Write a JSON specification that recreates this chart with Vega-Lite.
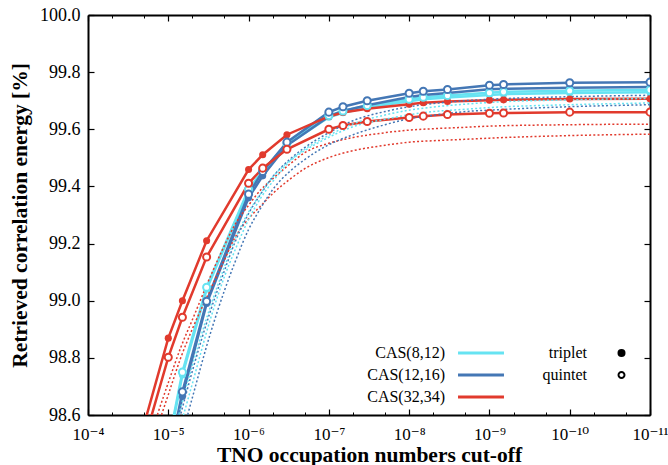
{
  "$schema": "https://vega.github.io/schema/vega-lite/v6.json",
  "width": 562,
  "height": 400,
  "autosize": {"type": "none"},
  "padding": {"left": 88, "top": 15, "right": 18, "bottom": 50},
  "background": "white",
  "config": {
    "view": {"stroke": null},
    "font": "Liberation Serif",
    "axis": {
      "grid": false,
      "labelFont": "Liberation Serif, DejaVu Serif",
      "titleFont": "Liberation Serif",
      "labelColor": "black",
      "titleColor": "black",
      "tickColor": "black",
      "domainColor": "black"
    }
  },
  "datasets": {
    "solid": [
      {"cas": "CAS(8,12)", "spin": "triplet", "cut": 1e-5, "e": 98.49},
      {"cas": "CAS(8,12)", "spin": "triplet", "cut": 6.67e-6, "e": 98.74},
      {"cas": "CAS(8,12)", "spin": "triplet", "cut": 3.33e-6, "e": 99.04},
      {"cas": "CAS(8,12)", "spin": "triplet", "cut": 1e-6, "e": 99.385},
      {"cas": "CAS(8,12)", "spin": "triplet", "cut": 6.67e-7, "e": 99.45},
      {"cas": "CAS(8,12)", "spin": "triplet", "cut": 3.33e-7, "e": 99.545},
      {"cas": "CAS(8,12)", "spin": "triplet", "cut": 1e-7, "e": 99.642},
      {"cas": "CAS(8,12)", "spin": "triplet", "cut": 6.67e-8, "e": 99.658},
      {"cas": "CAS(8,12)", "spin": "triplet", "cut": 3.33e-8, "e": 99.676},
      {"cas": "CAS(8,12)", "spin": "triplet", "cut": 1e-8, "e": 99.698},
      {"cas": "CAS(8,12)", "spin": "triplet", "cut": 6.67e-9, "e": 99.705},
      {"cas": "CAS(8,12)", "spin": "triplet", "cut": 3.33e-9, "e": 99.711},
      {"cas": "CAS(8,12)", "spin": "triplet", "cut": 1e-9, "e": 99.72},
      {"cas": "CAS(8,12)", "spin": "triplet", "cut": 6.67e-10, "e": 99.723},
      {"cas": "CAS(8,12)", "spin": "triplet", "cut": 1e-10, "e": 99.727},
      {"cas": "CAS(8,12)", "spin": "triplet", "cut": 1e-11, "e": 99.73},

      {"cas": "CAS(8,12)", "spin": "quintet", "cut": 1e-5, "e": 98.5},
      {"cas": "CAS(8,12)", "spin": "quintet", "cut": 6.67e-6, "e": 98.75},
      {"cas": "CAS(8,12)", "spin": "quintet", "cut": 3.33e-6, "e": 99.047},
      {"cas": "CAS(8,12)", "spin": "quintet", "cut": 1e-6, "e": 99.39},
      {"cas": "CAS(8,12)", "spin": "quintet", "cut": 6.67e-7, "e": 99.455},
      {"cas": "CAS(8,12)", "spin": "quintet", "cut": 3.33e-7, "e": 99.55},
      {"cas": "CAS(8,12)", "spin": "quintet", "cut": 1e-7, "e": 99.648},
      {"cas": "CAS(8,12)", "spin": "quintet", "cut": 6.67e-8, "e": 99.664},
      {"cas": "CAS(8,12)", "spin": "quintet", "cut": 3.33e-8, "e": 99.683},
      {"cas": "CAS(8,12)", "spin": "quintet", "cut": 1e-8, "e": 99.705},
      {"cas": "CAS(8,12)", "spin": "quintet", "cut": 6.67e-9, "e": 99.712},
      {"cas": "CAS(8,12)", "spin": "quintet", "cut": 3.33e-9, "e": 99.718},
      {"cas": "CAS(8,12)", "spin": "quintet", "cut": 1e-9, "e": 99.728},
      {"cas": "CAS(8,12)", "spin": "quintet", "cut": 6.67e-10, "e": 99.731},
      {"cas": "CAS(8,12)", "spin": "quintet", "cut": 1e-10, "e": 99.735},
      {"cas": "CAS(8,12)", "spin": "quintet", "cut": 1e-11, "e": 99.738},

      {"cas": "CAS(12,16)", "spin": "triplet", "cut": 1e-5, "e": 98.43},
      {"cas": "CAS(12,16)", "spin": "triplet", "cut": 6.67e-6, "e": 98.665},
      {"cas": "CAS(12,16)", "spin": "triplet", "cut": 3.33e-6, "e": 98.99},
      {"cas": "CAS(12,16)", "spin": "triplet", "cut": 1e-6, "e": 99.36},
      {"cas": "CAS(12,16)", "spin": "triplet", "cut": 6.67e-7, "e": 99.437},
      {"cas": "CAS(12,16)", "spin": "triplet", "cut": 3.33e-7, "e": 99.543},
      {"cas": "CAS(12,16)", "spin": "triplet", "cut": 1e-7, "e": 99.645},
      {"cas": "CAS(12,16)", "spin": "triplet", "cut": 6.67e-8, "e": 99.664},
      {"cas": "CAS(12,16)", "spin": "triplet", "cut": 3.33e-8, "e": 99.684},
      {"cas": "CAS(12,16)", "spin": "triplet", "cut": 1e-8, "e": 99.713},
      {"cas": "CAS(12,16)", "spin": "triplet", "cut": 6.67e-9, "e": 99.72},
      {"cas": "CAS(12,16)", "spin": "triplet", "cut": 3.33e-9, "e": 99.727},
      {"cas": "CAS(12,16)", "spin": "triplet", "cut": 1e-9, "e": 99.74},
      {"cas": "CAS(12,16)", "spin": "triplet", "cut": 6.67e-10, "e": 99.742},
      {"cas": "CAS(12,16)", "spin": "triplet", "cut": 1e-10, "e": 99.745},
      {"cas": "CAS(12,16)", "spin": "triplet", "cut": 1e-11, "e": 99.748},

      {"cas": "CAS(12,16)", "spin": "quintet", "cut": 1e-5, "e": 98.44},
      {"cas": "CAS(12,16)", "spin": "quintet", "cut": 6.67e-6, "e": 98.681},
      {"cas": "CAS(12,16)", "spin": "quintet", "cut": 3.33e-6, "e": 98.998},
      {"cas": "CAS(12,16)", "spin": "quintet", "cut": 1e-6, "e": 99.373},
      {"cas": "CAS(12,16)", "spin": "quintet", "cut": 6.67e-7, "e": 99.452},
      {"cas": "CAS(12,16)", "spin": "quintet", "cut": 3.33e-7, "e": 99.555},
      {"cas": "CAS(12,16)", "spin": "quintet", "cut": 1e-7, "e": 99.66},
      {"cas": "CAS(12,16)", "spin": "quintet", "cut": 6.67e-8, "e": 99.679},
      {"cas": "CAS(12,16)", "spin": "quintet", "cut": 3.33e-8, "e": 99.7},
      {"cas": "CAS(12,16)", "spin": "quintet", "cut": 1e-8, "e": 99.726},
      {"cas": "CAS(12,16)", "spin": "quintet", "cut": 6.67e-9, "e": 99.733},
      {"cas": "CAS(12,16)", "spin": "quintet", "cut": 3.33e-9, "e": 99.739},
      {"cas": "CAS(12,16)", "spin": "quintet", "cut": 1e-9, "e": 99.754},
      {"cas": "CAS(12,16)", "spin": "quintet", "cut": 6.67e-10, "e": 99.757},
      {"cas": "CAS(12,16)", "spin": "quintet", "cut": 1e-10, "e": 99.763},
      {"cas": "CAS(12,16)", "spin": "quintet", "cut": 1e-11, "e": 99.765},

      {"cas": "CAS(32,34)", "spin": "triplet", "cut": 3.33e-5, "e": 98.345},
      {"cas": "CAS(32,34)", "spin": "triplet", "cut": 1e-5, "e": 98.869},
      {"cas": "CAS(32,34)", "spin": "triplet", "cut": 6.67e-6, "e": 99.0},
      {"cas": "CAS(32,34)", "spin": "triplet", "cut": 3.33e-6, "e": 99.21},
      {"cas": "CAS(32,34)", "spin": "triplet", "cut": 1e-6, "e": 99.459},
      {"cas": "CAS(32,34)", "spin": "triplet", "cut": 6.67e-7, "e": 99.511},
      {"cas": "CAS(32,34)", "spin": "triplet", "cut": 3.33e-7, "e": 99.581},
      {"cas": "CAS(32,34)", "spin": "triplet", "cut": 1e-7, "e": 99.645},
      {"cas": "CAS(32,34)", "spin": "triplet", "cut": 6.67e-8, "e": 99.659},
      {"cas": "CAS(32,34)", "spin": "triplet", "cut": 3.33e-8, "e": 99.672},
      {"cas": "CAS(32,34)", "spin": "triplet", "cut": 1e-8, "e": 99.688},
      {"cas": "CAS(32,34)", "spin": "triplet", "cut": 6.67e-9, "e": 99.693},
      {"cas": "CAS(32,34)", "spin": "triplet", "cut": 3.33e-9, "e": 99.697},
      {"cas": "CAS(32,34)", "spin": "triplet", "cut": 1e-9, "e": 99.702},
      {"cas": "CAS(32,34)", "spin": "triplet", "cut": 6.67e-10, "e": 99.703},
      {"cas": "CAS(32,34)", "spin": "triplet", "cut": 1e-10, "e": 99.706},
      {"cas": "CAS(32,34)", "spin": "triplet", "cut": 1e-11, "e": 99.707},

      {"cas": "CAS(32,34)", "spin": "quintet", "cut": 3.33e-5, "e": 98.29},
      {"cas": "CAS(32,34)", "spin": "quintet", "cut": 1e-5, "e": 98.802},
      {"cas": "CAS(32,34)", "spin": "quintet", "cut": 6.67e-6, "e": 98.942},
      {"cas": "CAS(32,34)", "spin": "quintet", "cut": 3.33e-6, "e": 99.153},
      {"cas": "CAS(32,34)", "spin": "quintet", "cut": 1e-6, "e": 99.411},
      {"cas": "CAS(32,34)", "spin": "quintet", "cut": 6.67e-7, "e": 99.464},
      {"cas": "CAS(32,34)", "spin": "quintet", "cut": 3.33e-7, "e": 99.53},
      {"cas": "CAS(32,34)", "spin": "quintet", "cut": 1e-7, "e": 99.6},
      {"cas": "CAS(32,34)", "spin": "quintet", "cut": 6.67e-8, "e": 99.613},
      {"cas": "CAS(32,34)", "spin": "quintet", "cut": 3.33e-8, "e": 99.627},
      {"cas": "CAS(32,34)", "spin": "quintet", "cut": 1e-8, "e": 99.641},
      {"cas": "CAS(32,34)", "spin": "quintet", "cut": 6.67e-9, "e": 99.646},
      {"cas": "CAS(32,34)", "spin": "quintet", "cut": 3.33e-9, "e": 99.652},
      {"cas": "CAS(32,34)", "spin": "quintet", "cut": 1e-9, "e": 99.656},
      {"cas": "CAS(32,34)", "spin": "quintet", "cut": 6.67e-10, "e": 99.657},
      {"cas": "CAS(32,34)", "spin": "quintet", "cut": 1e-10, "e": 99.66},
      {"cas": "CAS(32,34)", "spin": "quintet", "cut": 1e-11, "e": 99.66}
    ],
    "fit": [
      {"cas": "CAS(32,34)", "spin": "triplet", "cut": 2e-5, "e": 98.461},
      {"cas": "CAS(32,34)", "spin": "triplet", "cut": 1e-5, "e": 98.713},
      {"cas": "CAS(32,34)", "spin": "triplet", "cut": 7e-6, "e": 98.836},
      {"cas": "CAS(32,34)", "spin": "triplet", "cut": 5e-6, "e": 98.934},
      {"cas": "CAS(32,34)", "spin": "triplet", "cut": 3e-6, "e": 99.084},
      {"cas": "CAS(32,34)", "spin": "triplet", "cut": 2e-6, "e": 99.193},
      {"cas": "CAS(32,34)", "spin": "triplet", "cut": 1.5e-6, "e": 99.263},
      {"cas": "CAS(32,34)", "spin": "triplet", "cut": 1e-6, "e": 99.334},
      {"cas": "CAS(32,34)", "spin": "triplet", "cut": 7e-7, "e": 99.389},
      {"cas": "CAS(32,34)", "spin": "triplet", "cut": 5e-7, "e": 99.427},
      {"cas": "CAS(32,34)", "spin": "triplet", "cut": 3e-7, "e": 99.48},
      {"cas": "CAS(32,34)", "spin": "triplet", "cut": 2e-7, "e": 99.518},
      {"cas": "CAS(32,34)", "spin": "triplet", "cut": 1e-7, "e": 99.551},
      {"cas": "CAS(32,34)", "spin": "triplet", "cut": 5e-8, "e": 99.571},
      {"cas": "CAS(32,34)", "spin": "triplet", "cut": 2e-8, "e": 99.588},
      {"cas": "CAS(32,34)", "spin": "triplet", "cut": 1e-8, "e": 99.597},
      {"cas": "CAS(32,34)", "spin": "triplet", "cut": 5e-9, "e": 99.602},
      {"cas": "CAS(32,34)", "spin": "triplet", "cut": 2e-9, "e": 99.607},
      {"cas": "CAS(32,34)", "spin": "triplet", "cut": 1e-9, "e": 99.611},
      {"cas": "CAS(32,34)", "spin": "triplet", "cut": 1e-10, "e": 99.616},
      {"cas": "CAS(32,34)", "spin": "triplet", "cut": 1e-11, "e": 99.618},

      {"cas": "CAS(32,34)", "spin": "quintet", "cut": 2e-5, "e": 98.419},
      {"cas": "CAS(32,34)", "spin": "quintet", "cut": 1e-5, "e": 98.671},
      {"cas": "CAS(32,34)", "spin": "quintet", "cut": 7e-6, "e": 98.8},
      {"cas": "CAS(32,34)", "spin": "quintet", "cut": 5e-6, "e": 98.902},
      {"cas": "CAS(32,34)", "spin": "quintet", "cut": 3e-6, "e": 99.038},
      {"cas": "CAS(32,34)", "spin": "quintet", "cut": 2e-6, "e": 99.143},
      {"cas": "CAS(32,34)", "spin": "quintet", "cut": 1.5e-6, "e": 99.217},
      {"cas": "CAS(32,34)", "spin": "quintet", "cut": 1e-6, "e": 99.287},
      {"cas": "CAS(32,34)", "spin": "quintet", "cut": 7e-7, "e": 99.333},
      {"cas": "CAS(32,34)", "spin": "quintet", "cut": 5e-7, "e": 99.375},
      {"cas": "CAS(32,34)", "spin": "quintet", "cut": 3e-7, "e": 99.427},
      {"cas": "CAS(32,34)", "spin": "quintet", "cut": 2e-7, "e": 99.462},
      {"cas": "CAS(32,34)", "spin": "quintet", "cut": 1e-7, "e": 99.501},
      {"cas": "CAS(32,34)", "spin": "quintet", "cut": 5e-8, "e": 99.525},
      {"cas": "CAS(32,34)", "spin": "quintet", "cut": 2e-8, "e": 99.544},
      {"cas": "CAS(32,34)", "spin": "quintet", "cut": 1e-8, "e": 99.555},
      {"cas": "CAS(32,34)", "spin": "quintet", "cut": 5e-9, "e": 99.56},
      {"cas": "CAS(32,34)", "spin": "quintet", "cut": 2e-9, "e": 99.565},
      {"cas": "CAS(32,34)", "spin": "quintet", "cut": 1e-9, "e": 99.569},
      {"cas": "CAS(32,34)", "spin": "quintet", "cut": 1e-10, "e": 99.578},
      {"cas": "CAS(32,34)", "spin": "quintet", "cut": 1e-11, "e": 99.583},

      {"cas": "CAS(12,16)", "spin": "quintet", "cut": 1e-5, "e": 98.434},
      {"cas": "CAS(12,16)", "spin": "quintet", "cut": 7e-6, "e": 98.603},
      {"cas": "CAS(12,16)", "spin": "quintet", "cut": 5e-6, "e": 98.755},
      {"cas": "CAS(12,16)", "spin": "quintet", "cut": 3e-6, "e": 98.962},
      {"cas": "CAS(12,16)", "spin": "quintet", "cut": 2e-6, "e": 99.105},
      {"cas": "CAS(12,16)", "spin": "quintet", "cut": 1.5e-6, "e": 99.2},
      {"cas": "CAS(12,16)", "spin": "quintet", "cut": 1e-6, "e": 99.305},
      {"cas": "CAS(12,16)", "spin": "quintet", "cut": 7e-7, "e": 99.375},
      {"cas": "CAS(12,16)", "spin": "quintet", "cut": 5e-7, "e": 99.434},
      {"cas": "CAS(12,16)", "spin": "quintet", "cut": 3e-7, "e": 99.497},
      {"cas": "CAS(12,16)", "spin": "quintet", "cut": 2e-7, "e": 99.536},
      {"cas": "CAS(12,16)", "spin": "quintet", "cut": 1e-7, "e": 99.588},
      {"cas": "CAS(12,16)", "spin": "quintet", "cut": 5e-8, "e": 99.63},
      {"cas": "CAS(12,16)", "spin": "quintet", "cut": 2e-8, "e": 99.662},
      {"cas": "CAS(12,16)", "spin": "quintet", "cut": 1e-8, "e": 99.679},
      {"cas": "CAS(12,16)", "spin": "quintet", "cut": 5e-9, "e": 99.69},
      {"cas": "CAS(12,16)", "spin": "quintet", "cut": 2e-9, "e": 99.7},
      {"cas": "CAS(12,16)", "spin": "quintet", "cut": 1e-9, "e": 99.705},
      {"cas": "CAS(12,16)", "spin": "quintet", "cut": 1e-10, "e": 99.714},
      {"cas": "CAS(12,16)", "spin": "quintet", "cut": 1e-11, "e": 99.719},

      {"cas": "CAS(12,16)", "spin": "triplet", "cut": 1e-5, "e": 98.345},
      {"cas": "CAS(12,16)", "spin": "triplet", "cut": 7e-6, "e": 98.51},
      {"cas": "CAS(12,16)", "spin": "triplet", "cut": 5e-6, "e": 98.662},
      {"cas": "CAS(12,16)", "spin": "triplet", "cut": 3e-6, "e": 98.884},
      {"cas": "CAS(12,16)", "spin": "triplet", "cut": 2e-6, "e": 99.035},
      {"cas": "CAS(12,16)", "spin": "triplet", "cut": 1.5e-6, "e": 99.13},
      {"cas": "CAS(12,16)", "spin": "triplet", "cut": 1e-6, "e": 99.249},
      {"cas": "CAS(12,16)", "spin": "triplet", "cut": 7e-7, "e": 99.326},
      {"cas": "CAS(12,16)", "spin": "triplet", "cut": 5e-7, "e": 99.389},
      {"cas": "CAS(12,16)", "spin": "triplet", "cut": 3e-7, "e": 99.455},
      {"cas": "CAS(12,16)", "spin": "triplet", "cut": 2e-7, "e": 99.494},
      {"cas": "CAS(12,16)", "spin": "triplet", "cut": 1e-7, "e": 99.546},
      {"cas": "CAS(12,16)", "spin": "triplet", "cut": 5e-8, "e": 99.581},
      {"cas": "CAS(12,16)", "spin": "triplet", "cut": 2e-8, "e": 99.616},
      {"cas": "CAS(12,16)", "spin": "triplet", "cut": 1e-8, "e": 99.637},
      {"cas": "CAS(12,16)", "spin": "triplet", "cut": 5e-9, "e": 99.649},
      {"cas": "CAS(12,16)", "spin": "triplet", "cut": 2e-9, "e": 99.662},
      {"cas": "CAS(12,16)", "spin": "triplet", "cut": 1e-9, "e": 99.667},
      {"cas": "CAS(12,16)", "spin": "triplet", "cut": 1e-10, "e": 99.679},
      {"cas": "CAS(12,16)", "spin": "triplet", "cut": 1e-11, "e": 99.686},

      {"cas": "CAS(8,12)", "spin": "quintet", "cut": 1e-5, "e": 98.46},
      {"cas": "CAS(8,12)", "spin": "quintet", "cut": 7e-6, "e": 98.625},
      {"cas": "CAS(8,12)", "spin": "quintet", "cut": 5e-6, "e": 98.775},
      {"cas": "CAS(8,12)", "spin": "quintet", "cut": 3e-6, "e": 98.978},
      {"cas": "CAS(8,12)", "spin": "quintet", "cut": 2e-6, "e": 99.118},
      {"cas": "CAS(8,12)", "spin": "quintet", "cut": 1.5e-6, "e": 99.21},
      {"cas": "CAS(8,12)", "spin": "quintet", "cut": 1e-6, "e": 99.31},
      {"cas": "CAS(8,12)", "spin": "quintet", "cut": 7e-7, "e": 99.377},
      {"cas": "CAS(8,12)", "spin": "quintet", "cut": 5e-7, "e": 99.433},
      {"cas": "CAS(8,12)", "spin": "quintet", "cut": 3e-7, "e": 99.493},
      {"cas": "CAS(8,12)", "spin": "quintet", "cut": 2e-7, "e": 99.53},
      {"cas": "CAS(8,12)", "spin": "quintet", "cut": 1e-7, "e": 99.579},
      {"cas": "CAS(8,12)", "spin": "quintet", "cut": 5e-8, "e": 99.619},
      {"cas": "CAS(8,12)", "spin": "quintet", "cut": 2e-8, "e": 99.65},
      {"cas": "CAS(8,12)", "spin": "quintet", "cut": 1e-8, "e": 99.667},
      {"cas": "CAS(8,12)", "spin": "quintet", "cut": 5e-9, "e": 99.678},
      {"cas": "CAS(8,12)", "spin": "quintet", "cut": 2e-9, "e": 99.688},
      {"cas": "CAS(8,12)", "spin": "quintet", "cut": 1e-9, "e": 99.694},
      {"cas": "CAS(8,12)", "spin": "quintet", "cut": 1e-10, "e": 99.703},
      {"cas": "CAS(8,12)", "spin": "quintet", "cut": 1e-11, "e": 99.708},

      {"cas": "CAS(8,12)", "spin": "triplet", "cut": 1e-5, "e": 98.399},
      {"cas": "CAS(8,12)", "spin": "triplet", "cut": 7e-6, "e": 98.564},
      {"cas": "CAS(8,12)", "spin": "triplet", "cut": 5e-6, "e": 98.711},
      {"cas": "CAS(8,12)", "spin": "triplet", "cut": 3e-6, "e": 98.934},
      {"cas": "CAS(8,12)", "spin": "triplet", "cut": 2e-6, "e": 99.084},
      {"cas": "CAS(8,12)", "spin": "triplet", "cut": 1.5e-6, "e": 99.172},
      {"cas": "CAS(8,12)", "spin": "triplet", "cut": 1e-6, "e": 99.284},
      {"cas": "CAS(8,12)", "spin": "triplet", "cut": 7e-7, "e": 99.361},
      {"cas": "CAS(8,12)", "spin": "triplet", "cut": 5e-7, "e": 99.417},
      {"cas": "CAS(8,12)", "spin": "triplet", "cut": 3e-7, "e": 99.49},
      {"cas": "CAS(8,12)", "spin": "triplet", "cut": 2e-7, "e": 99.525},
      {"cas": "CAS(8,12)", "spin": "triplet", "cut": 1e-7, "e": 99.572},
      {"cas": "CAS(8,12)", "spin": "triplet", "cut": 5e-8, "e": 99.609},
      {"cas": "CAS(8,12)", "spin": "triplet", "cut": 2e-8, "e": 99.635},
      {"cas": "CAS(8,12)", "spin": "triplet", "cut": 1e-8, "e": 99.651},
      {"cas": "CAS(8,12)", "spin": "triplet", "cut": 5e-9, "e": 99.662},
      {"cas": "CAS(8,12)", "spin": "triplet", "cut": 2e-9, "e": 99.67},
      {"cas": "CAS(8,12)", "spin": "triplet", "cut": 1e-9, "e": 99.676},
      {"cas": "CAS(8,12)", "spin": "triplet", "cut": 1e-10, "e": 99.686},
      {"cas": "CAS(8,12)", "spin": "triplet", "cut": 1e-11, "e": 99.692}
    ]
  },
  "resolve": {"axis": {"x": "independent", "y": "independent"}},
  "layer": [
    {
      "data": {"name": "solid"},
      "mark": {"type": "line", "clip": true, "strokeWidth": 2.5},
      "encoding": {
        "x": {
          "field": "cut", "type": "quantitative",
          "scale": {"type": "log", "domain": [1e-11, 1e-4], "reverse": true, "nice": false},
          "axis": {
            "orient": "bottom",
            "values": [1e-4, 1e-5, 1e-6, 1e-7, 1e-8, 1e-9, 1e-10, 1e-11],
            "labelExpr": "'10' + ['⁻⁴','⁻⁵','⁻⁶','⁻⁷','⁻⁸','⁻⁹','⁻¹⁰','⁻¹¹'][round(-log(datum.value) / LN10) - 4]",
            "tickSize": -6, "tickWidth": 1.2, "domainWidth": 2,
            "labelFontSize": 17, "labelPadding": 17, "labelFlush": false, "labelOverlap": false,
            "title": "TNO occupation numbers cut-off",
            "titleFontSize": 21.5, "titleFontWeight": "bold",
            "titleY": 46, "titleBaseline": "alphabetic"
          }
        },
        "y": {
          "field": "e", "type": "quantitative",
          "scale": {"domain": [98.6, 100], "nice": false, "zero": false},
          "axis": {
            "orient": "left",
            "values": [98.6, 98.8, 99, 99.2, 99.4, 99.6, 99.8, 100],
            "format": ".1f",
            "tickSize": -6, "tickWidth": 1.2, "domainWidth": 2,
            "labelFontSize": 18, "labelPadding": 14, "labelFlush": false,
            "title": "Retrieved correlation energy [%]",
            "titleFontSize": 21.5, "titleFontWeight": "bold", "titlePadding": 8
          }
        },
        "color": {
          "field": "cas", "type": "nominal",
          "scale": {"domain": ["CAS(8,12)", "CAS(12,16)", "CAS(32,34)"], "range": ["#66e3f2", "#4477b5", "#e13a2d"]},
          "legend": {
            "orient": "none", "legendX": 385, "legendY": 330, "padding": 0,
            "title": null, "symbolType": "M-4,0L4,0", "symbolSize": 132, "symbolStrokeWidth": 2.8,
            "rowPadding": 6,
            "labelAlign": "right", "labelOffset": -44,
            "labelFont": "Liberation Serif", "labelFontSize": 16, "labelColor": "black", "labelLimit": 0
          }
        },
        "detail": {"field": "spin"}
      }
    },
    {
      "data": {"name": "fit"},
      "mark": {"type": "line", "clip": true, "strokeWidth": 1.5, "strokeDash": [2, 2.2], "interpolate": "monotone"},
      "encoding": {
        "x": {
          "field": "cut", "type": "quantitative",
          "axis": {
            "orient": "top",
            "values": [1e-4, 1e-5, 1e-6, 1e-7, 1e-8, 1e-9, 1e-10, 1e-11],
            "tickSize": -6, "tickWidth": 1.2, "domainWidth": 2,
            "labels": false, "title": null
          }
        },
        "y": {
          "field": "e", "type": "quantitative",
          "axis": {
            "orient": "right",
            "values": [98.6, 98.8, 99, 99.2, 99.4, 99.6, 99.8, 100],
            "tickSize": -6, "tickWidth": 1.2, "domainWidth": 2,
            "labels": false, "title": null
          }
        },
        "color": {"field": "cas", "type": "nominal"},
        "detail": {"field": "spin"}
      }
    },
    {
      "data": {"name": "solid"},
      "transform": [{"filter": "datum.spin == 'triplet'"}],
      "mark": {"type": "point", "clip": true, "filled": true, "size": 50, "opacity": 1},
      "encoding": {
        "x": {
          "field": "cut", "type": "quantitative",
          "axis": {
            "orient": "bottom",
            "values": [5e-5, 2e-5, 5e-6, 2e-6, 5e-7, 2e-7, 5e-8, 2e-8, 5e-9, 2e-9, 5e-10, 2e-10, 5e-11, 2e-11],
            "tickSize": -3, "tickWidth": 1, "domain": false, "labels": false, "title": null
          }
        },
        "y": {"field": "e", "type": "quantitative", "axis": null},
        "color": {"field": "cas", "type": "nominal"},
        "shape": {
          "field": "spin", "type": "nominal",
          "scale": {
            "domain": ["triplet", "quintet"],
            "range": ["circle", "M-1,0A1,1,0,1,0,1,0A1,1,0,1,0,-1,0ZM-0.5,0A0.5,0.5,0,1,1,0.5,0A0.5,0.5,0,1,1,-0.5,0Z"]
          },
          "legend": {
            "orient": "none", "legendX": 525.5, "legendY": 330, "padding": 0,
            "title": null, "symbolSize": 64, "symbolStrokeWidth": 0,
            "symbolFillColor": "black", "symbolStrokeColor": "black", "symbolOpacity": 1,
            "rowPadding": 6,
            "labelAlign": "right", "labelOffset": -42.5,
            "labelFont": "Liberation Serif", "labelFontSize": 16, "labelColor": "black", "labelLimit": 0
          }
        }
      }
    },
    {
      "data": {"name": "solid"},
      "transform": [{"filter": "datum.spin == 'quintet'"}],
      "mark": {"type": "point", "shape": "circle", "clip": true, "filled": false, "fill": "white", "strokeWidth": 2, "size": 50, "opacity": 1},
      "encoding": {
        "x": {
          "field": "cut", "type": "quantitative",
          "axis": {
            "orient": "top",
            "values": [5e-5, 2e-5, 5e-6, 2e-6, 5e-7, 2e-7, 5e-8, 2e-8, 5e-9, 2e-9, 5e-10, 2e-10, 5e-11, 2e-11],
            "tickSize": -3, "tickWidth": 1, "domain": false, "labels": false, "title": null
          }
        },
        "y": {"field": "e", "type": "quantitative", "axis": null},
        "color": {"field": "cas", "type": "nominal"}
      }
    }
  ]
}
